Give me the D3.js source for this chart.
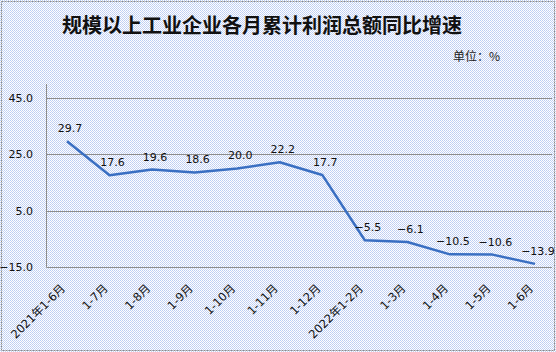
<!DOCTYPE html>
<html><head><meta charset="utf-8">
<script src="https://cdn.jsdelivr.net/npm/d3@7"></script>
<style>body{margin:0;background:#fff;} svg{display:block;}</style>
</head><body>
<script>
const categories = ["2021年1-6月","1-7月","1-8月","1-9月","1-10月","1-11月","1-12月","2022年1-2月","1-3月","1-4月","1-5月","1-6月"];
const growth = [29.7,17.6,19.6,18.6,20.0,22.2,17.7,-5.5,-6.1,-10.5,-10.6,-13.9];
const yTicks = [-15,5,25,45];
const titleText = "规模以上工业企业各月累计利润总额同比增速";
const unitText = "单位：%";

(function(){
const W=556,H=352;
const svg=d3.select("body").append("svg").attr("width",W).attr("height",H);
const defs=svg.append("defs");
const pat=defs.append("pattern").attr("id","bg").attr("width",2).attr("height",2).attr("patternUnits","userSpaceOnUse");
pat.append("rect").attr("width",2).attr("height",2).attr("fill","#ffffff");
pat.append("rect").attr("width",1).attr("height",1).attr("fill","#bccdf2");
pat.append("rect").attr("x",1).attr("y",1).attr("width",1).attr("height",1).attr("fill","#c7d3f3");
svg.append("rect").attr("width",W).attr("height",H).attr("fill","url(#bg)");
svg.append("rect").attr("x",1.5).attr("y",1.5).attr("width",W-3).attr("height",H-3)
  .attr("fill","none").attr("stroke","#8a8a8a").attr("stroke-dasharray","2,1");

const pl=46.5, pr=552, pt=84, pb=267;
const x=d3.scalePoint().domain(categories).range([67,535]);
const y=d3.scaleLinear().domain([-15,50]).range([pb,pt]);

const fontNum="'DejaVu Sans','Noto Sans CJK SC',sans-serif";

svg.append("g").selectAll("line").data(yTicks).join("line")
  .attr("x1",pl).attr("x2",pr).attr("y1",d=>Math.round(y(d))+0.5).attr("y2",d=>Math.round(y(d))+0.5)
  .attr("stroke","#8c8c8c").attr("stroke-width",1);
svg.append("line").attr("x1",pl).attr("x2",pl).attr("y1",pt).attr("y2",pb+0.5)
  .attr("stroke","#8c8c8c");

svg.append("g").selectAll("text").data(yTicks).join("text")
  .attr("x",33).attr("y",d=>y(d)).attr("dy","0.36em").attr("text-anchor","end")
  .attr("font-family",fontNum).attr("font-size",11).attr("fill","#111")
  .text(d=>d3.format(".1f")(d));

svg.append("g").selectAll("text").data(categories).join("text")
  .attr("transform",d=>`translate(${x(d)-1},${289}) rotate(-45)`)
  .attr("text-anchor","end").attr("font-family",fontNum).attr("font-size",11.5).attr("fill","#111")
  .text(d=>d);

const line=d3.line().x((d,i)=>x(categories[i])).y(d=>y(d));
svg.append("path").datum(growth).attr("d",line).attr("fill","none")
  .attr("stroke","#3a6fc2").attr("stroke-width",2.5).attr("stroke-linejoin","round");

svg.append("g").selectAll("text").data(growth).join("text")
  .attr("x",(d,i)=>x(categories[i])+3).attr("y",d=>y(d)-13).attr("dy","0.36em")
  .attr("text-anchor","middle").attr("font-family",fontNum).attr("font-size",11).attr("fill","#111")
  .text(d=>d3.format(".1f")(d));

svg.append("text").attr("x",262).attr("y",33).attr("text-anchor","middle")
  .attr("font-family","'Noto Sans CJK SC',sans-serif").attr("font-weight","bold").attr("font-size",20).attr("fill","#111")
  .text(titleText);
svg.append("text").attr("x",500).attr("y",61).attr("text-anchor","end")
  .attr("font-family","'Noto Sans CJK SC',sans-serif").attr("font-size",12).attr("fill","#222")
  .text(unitText);
})();
</script>
</body></html>
